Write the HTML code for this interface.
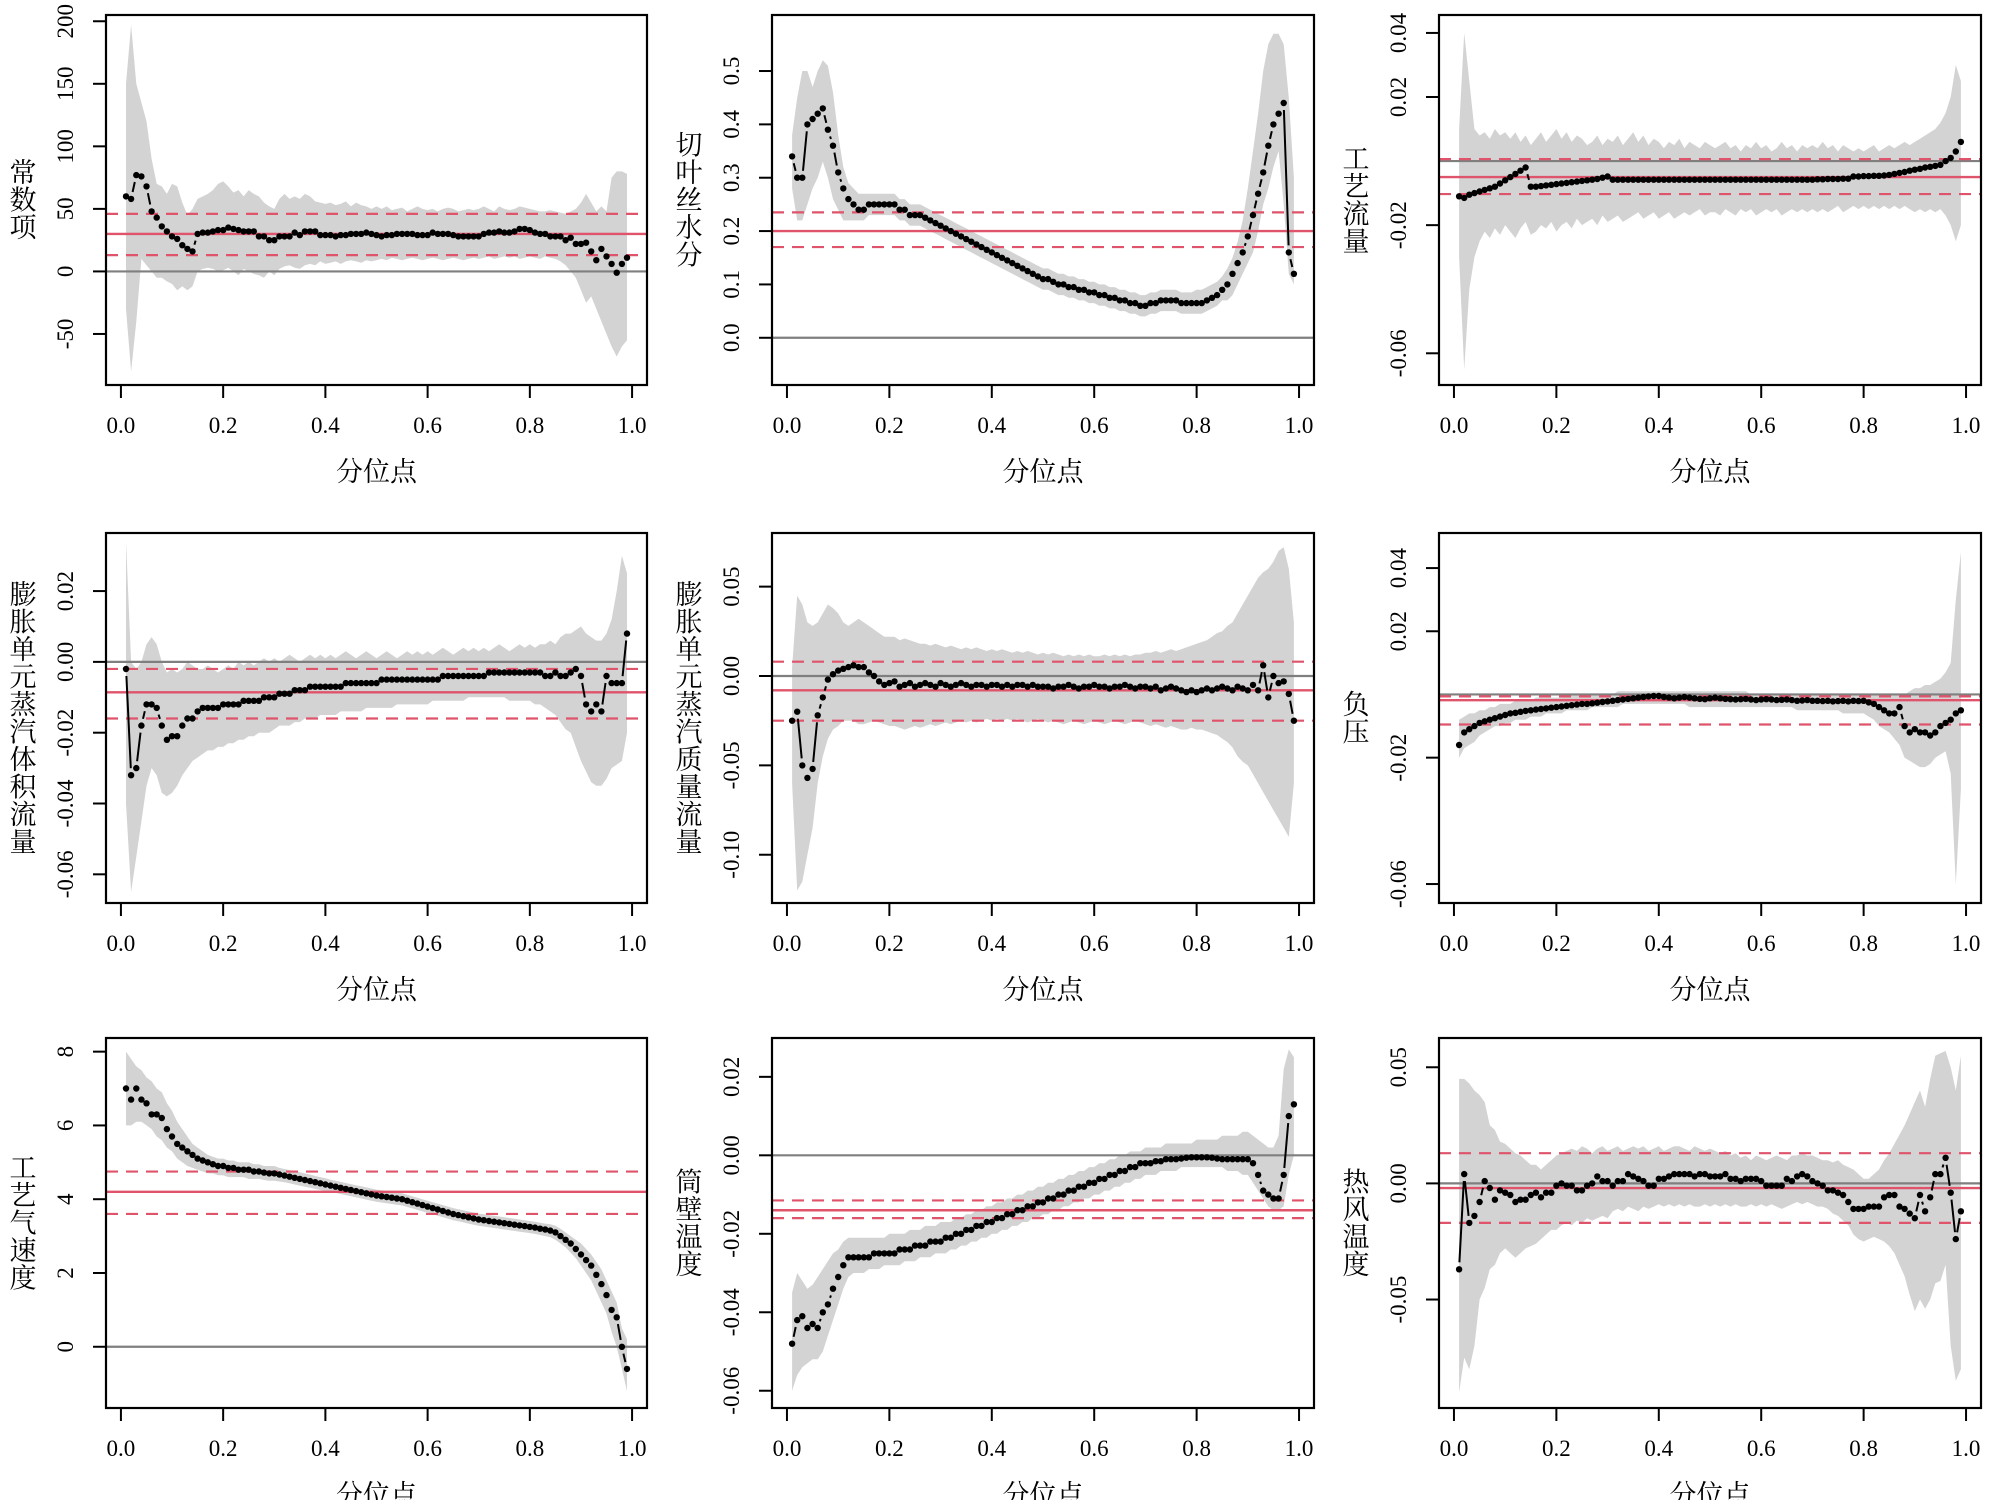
<!DOCTYPE html>
<html><head><meta charset="utf-8"><style>
html,body{margin:0;padding:0;background:#fff;}
svg{display:block;}
text{font-family:"Liberation Serif","Noto Serif CJK SC",serif;fill:#000;}
</style></head><body>
<svg id="chart" width="2000" height="1500" viewBox="0 0 2000 1500" xmlns="http://www.w3.org/2000/svg"></svg>
<script>
const titles=["常数项","切叶丝水分","工艺流量","膨胀单元蒸汽体积流量","膨胀单元蒸汽质量流量","负压","工艺气速度","筒壁温度","热风温度"];
const xTicks=[0,0.2,0.4,0.6,0.8,1.0];
const xTickLabels=["0.0","0.2","0.4","0.6","0.8","1.0"];
const yTicks=[[-50,0,50,100,150,200],[0,0.1,0.2,0.3,0.4,0.5],[-0.06,-0.02,0.02,0.04],[-0.06,-0.04,-0.02,0,0.02],[-0.10,-0.05,0,0.05],[-0.06,-0.02,0.02,0.04],[0,2,4,6,8],[-0.06,-0.04,-0.02,0,0.02],[-0.05,0,0.05]];
const yTickLabels=[["-50","0","50","100","150","200"],["0.0","0.1","0.2","0.3","0.4","0.5"],["-0.06","-0.02","0.02","0.04"],["-0.06","-0.04","-0.02","0.00","0.02"],["-0.10","-0.05","0.00","0.05"],["-0.06","-0.02","0.02","0.04"],["0","2","4","6","8"],["-0.06","-0.04","-0.02","0.00","0.02"],["-0.05","0.00","0.05"]];
const yLims=[[-90.8,205],[-0.0885,0.605],[-0.0699,0.0456],[-0.0681,0.0364],[-0.127,0.08],[-0.066,0.0511],[-1.66,8.37],[-0.0644,0.0299],[-0.0967,0.0626]];
const olsEst=[30,0.20,-0.005,-0.0086,-0.008,-0.0018,4.2,-0.014,-0.002];
const olsLo=[13,0.17,-0.0103,-0.016,-0.025,-0.0095,3.6,-0.016,-0.017];
const olsHi=[46,0.235,0.0006,-0.002,0.008,-0.0006,4.75,-0.0115,0.013];

const est1=[60,58,77,76,68,48,43,36,32,28,26,21,18,16,30,31,31,32,33,33,35,34,33,32,32,32,28,28,25,25,28,28,28,31,29,32,32,32,29,29,29,28,29,29,30,30,30,31,30,29,28,29,29,30,30,30,30,29,29,29,31,30,30,30,29,28,28,28,28,28,30,31,31,32,31,31,32,34,34,33,31,30,30,28,28,28,25,27,22,22,23,16,9,18,12,6,-1,6,11];
const hi1=[150,197,150,135,120,90,70,68,62,70,68,55,45,50,58,60,62,65,70,72,68,63,65,60,65,62,60,55,52,50,58,62,58,60,58,62,60,56,55,54,55,53,54,56,52,55,53,52,50,52,50,52,49,50,51,48,50,52,50,49,50,48,50,51,50,48,49,50,49,50,52,50,48,52,50,49,50,52,51,50,49,48,48,49,48,47,46,48,50,55,62,55,48,52,48,75,80,80,78];
const lo1=[-30,-80,-40,10,5,0,-5,-5,-8,-10,-15,-12,-15,-12,0,2,3,2,0,1,3,0,-3,2,0,-2,-3,-5,0,-3,2,4,5,3,2,5,6,5,8,6,7,8,6,8,9,8,7,9,8,9,10,9,11,10,9,10,11,10,9,10,11,10,9,10,11,10,9,10,11,10,11,12,10,11,12,11,12,10,11,12,11,10,12,11,10,8,5,0,-5,-15,-25,-20,-30,-40,-50,-60,-68,-60,-55];

const est2=[.34,.30,.30,.40,.41,.42,.43,.39,.36,.31,.28,.26,.25,.24,.24,.25,.25,.25,.25,.25,.25,.24,.24,.23,.23,.23,.225,.22,.215,.21,.205,.20,.195,.19,.185,.18,.175,.17,.165,.16,.155,.15,.145,.14,.135,.13,.125,.12,.115,.11,.11,.105,.10,.10,.095,.095,.09,.09,.085,.085,.08,.08,.075,.075,.07,.07,.065,.065,.06,.06,.065,.065,.07,.07,.07,.07,.065,.065,.065,.065,.065,.07,.075,.08,.09,.10,.12,.14,.16,.19,.23,.27,.31,.36,.40,.42,.44,.16,.12];
const hi2=[.38,.45,.50,.50,.47,.50,.52,.51,.46,.38,.32,.29,.28,.27,.27,.27,.27,.27,.27,.27,.27,.26,.26,.25,.25,.25,.245,.24,.235,.23,.225,.22,.215,.21,.205,.20,.195,.19,.185,.18,.175,.17,.165,.16,.155,.15,.145,.14,.135,.13,.13,.125,.12,.12,.115,.115,.11,.11,.105,.105,.10,.10,.095,.095,.09,.09,.085,.085,.08,.08,.085,.085,.09,.09,.09,.09,.085,.085,.085,.09,.09,.095,.10,.105,.115,.13,.15,.18,.22,.28,.35,.42,.50,.55,.57,.57,.55,.45,.30];
const lo2=[.28,.22,.22,.25,.28,.30,.33,.30,.26,.24,.22,.22,.22,.22,.22,.23,.23,.23,.23,.23,.23,.22,.22,.21,.21,.21,.205,.20,.195,.19,.185,.18,.175,.17,.165,.16,.155,.15,.145,.14,.135,.13,.125,.12,.115,.11,.105,.10,.095,.09,.09,.085,.08,.08,.075,.075,.07,.07,.065,.065,.06,.06,.055,.055,.05,.05,.045,.045,.04,.04,.045,.045,.05,.05,.05,.05,.045,.045,.045,.045,.045,.05,.055,.06,.07,.07,.08,.10,.12,.14,.16,.20,.25,.28,.32,.35,.25,.12,.10];

const est3=[-.011,-.0115,-.0105,-.010,-.0095,-.009,-.0085,-.008,-.007,-.006,-.005,-.004,-.003,-.002,-.008,-.008,-.0078,-.0076,-.0074,-.0072,-.007,-.0068,-.0066,-.0064,-.0062,-.006,-.0058,-.0056,-.0052,-.0048,-.0058,-.0058,-.0058,-.0058,-.0058,-.0058,-.0058,-.0058,-.0058,-.0058,-.0058,-.0058,-.0058,-.0058,-.0058,-.0058,-.0058,-.0058,-.0058,-.0058,-.0058,-.0058,-.0058,-.0058,-.0058,-.0058,-.0058,-.0058,-.0058,-.0058,-.0058,-.0058,-.0058,-.0058,-.0058,-.0058,-.0058,-.0058,-.0058,-.0058,-.0057,-.0057,-.0056,-.0056,-.0056,-.0055,-.0055,-.0048,-.0048,-.0047,-.0047,-.0046,-.0046,-.0045,-.0043,-.004,-.0037,-.0034,-.003,-.0027,-.0024,-.002,-.0018,-.0015,-.0012,.000,.001,.003,.006];
const hi3=[.01,.04,.025,.01,.008,.009,.007,.010,.008,.009,.007,.009,.006,.008,.005,.007,.009,.006,.008,.010,.007,.009,.006,.008,.007,.005,.006,.008,.005,.007,.006,.008,.005,.007,.009,.006,.008,.005,.007,.006,.004,.006,.005,.007,.004,.006,.005,.004,.006,.005,.004,.005,.006,.004,.005,.003,.005,.004,.006,.004,.005,.003,.004,.006,.004,.005,.003,.005,.004,.005,.004,.006,.004,.005,.003,.005,.004,.003,.004,.003,.004,.005,.003,.004,.005,.004,.005,.006,.005,.006,.007,.008,.009,.010,.012,.015,.020,.030,.025];
const lo3=[-.03,-.065,-.04,-.03,-.025,-.022,-.024,-.021,-.023,-.020,-.022,-.024,-.021,-.019,-.023,-.022,-.020,-.021,-.019,-.022,-.020,-.019,-.021,-.018,-.020,-.019,-.018,-.020,-.017,-.019,-.018,-.017,-.019,-.018,-.017,-.016,-.018,-.017,-.016,-.018,-.017,-.016,-.018,-.017,-.016,-.017,-.016,-.015,-.017,-.016,-.016,-.017,-.015,-.016,-.017,-.015,-.016,-.015,-.017,-.016,-.015,-.016,-.015,-.017,-.016,-.015,-.016,-.015,-.016,-.015,-.016,-.015,-.016,-.015,-.014,-.016,-.015,-.014,-.015,-.014,-.015,-.014,-.015,-.014,-.015,-.014,-.015,-.014,-.015,-.016,-.015,-.016,-.015,-.016,-.015,-.017,-.020,-.025,-.020];

const est4=[-.002,-.032,-.030,-.018,-.012,-.012,-.013,-.018,-.022,-.021,-.021,-.018,-.016,-.016,-.014,-.013,-.013,-.013,-.013,-.012,-.012,-.012,-.012,-.011,-.011,-.011,-.011,-.010,-.010,-.010,-.009,-.009,-.009,-.008,-.008,-.008,-.007,-.007,-.007,-.007,-.007,-.007,-.007,-.006,-.006,-.006,-.006,-.006,-.006,-.006,-.005,-.005,-.005,-.005,-.005,-.005,-.005,-.005,-.005,-.005,-.005,-.005,-.004,-.004,-.004,-.004,-.004,-.004,-.004,-.004,-.004,-.003,-.003,-.003,-.003,-.003,-.003,-.003,-.003,-.003,-.003,-.003,-.004,-.004,-.003,-.004,-.004,-.003,-.002,-.004,-.012,-.014,-.012,-.014,-.004,-.006,-.006,-.006,.008];
const hi4=[.034,.000,-.002,.000,.005,.007,.005,.000,-.003,-.002,-.003,-.002,.000,-.001,-.002,-.002,-.001,-.002,-.003,-.002,-.001,-.002,.000,-.001,.000,-.001,.000,.001,.000,.001,.000,.001,.002,.001,.000,.001,.002,.001,.002,.001,.002,.001,.002,.003,.002,.001,.002,.003,.002,.001,.002,.003,.002,.001,.002,.003,.002,.003,.002,.003,.002,.003,.004,.003,.002,.003,.004,.003,.004,.003,.004,.003,.004,.005,.004,.003,.004,.005,.004,.005,.004,.005,.005,.006,.005,.007,.008,.008,.009,.010,.008,.007,.006,.006,.008,.012,.020,.030,.025];
const lo4=[-.040,-.065,-.055,-.045,-.035,-.030,-.032,-.037,-.038,-.037,-.035,-.032,-.030,-.028,-.027,-.026,-.025,-.025,-.024,-.024,-.023,-.023,-.022,-.022,-.021,-.021,-.020,-.020,-.020,-.019,-.018,-.018,-.018,-.017,-.017,-.016,-.016,-.016,-.015,-.015,-.015,-.015,-.014,-.014,-.014,-.014,-.014,-.013,-.013,-.013,-.013,-.013,-.013,-.012,-.012,-.012,-.012,-.012,-.012,-.012,-.011,-.011,-.011,-.011,-.011,-.011,-.011,-.010,-.010,-.010,-.010,-.010,-.010,-.010,-.010,-.011,-.011,-.011,-.011,-.011,-.012,-.012,-.013,-.014,-.015,-.017,-.019,-.020,-.024,-.028,-.031,-.034,-.035,-.035,-.033,-.030,-.029,-.028,-.020];

const est5=[-.025,-.020,-.050,-.057,-.052,-.022,-.012,-.002,.001,.003,.004,.005,.006,.005,.005,.002,.000,-.003,-.005,-.004,-.003,-.006,-.005,-.004,-.006,-.005,-.004,-.005,-.006,-.004,-.005,-.006,-.005,-.004,-.005,-.006,-.005,-.005,-.006,-.005,-.005,-.006,-.005,-.006,-.005,-.005,-.006,-.005,-.006,-.006,-.006,-.007,-.006,-.006,-.005,-.006,-.007,-.006,-.006,-.005,-.006,-.006,-.007,-.006,-.006,-.005,-.006,-.007,-.006,-.006,-.007,-.006,-.008,-.007,-.006,-.007,-.008,-.009,-.008,-.009,-.008,-.007,-.008,-.007,-.006,-.007,-.008,-.006,-.007,-.008,-.005,-.008,.006,-.012,.000,-.004,-.003,-.010,-.025];
const hi5=[.005,.045,.040,.030,.028,.030,.035,.040,.038,.035,.030,.028,.030,.032,.030,.028,.026,.024,.022,.022,.022,.020,.021,.020,.019,.018,.018,.017,.018,.017,.016,.017,.016,.015,.016,.015,.016,.015,.014,.015,.014,.015,.014,.013,.014,.013,.014,.013,.012,.013,.012,.013,.012,.011,.012,.011,.012,.011,.012,.011,.011,.012,.011,.012,.011,.012,.011,.012,.012,.013,.013,.014,.013,.014,.015,.014,.015,.016,.017,.018,.019,.020,.022,.024,.025,.028,.030,.035,.040,.045,.050,.055,.058,.060,.064,.070,.072,.060,.030];
const lo5=[-.060,-.120,-.115,-.100,-.085,-.060,-.045,-.035,-.030,-.028,-.025,-.025,-.025,-.027,-.027,-.026,-.025,-.026,-.027,-.028,-.028,-.029,-.030,-.029,-.028,-.029,-.028,-.027,-.028,-.027,-.026,-.027,-.026,-.025,-.026,-.025,-.026,-.025,-.024,-.025,-.024,-.025,-.024,-.025,-.024,-.025,-.026,-.025,-.024,-.025,-.026,-.025,-.026,-.027,-.026,-.025,-.026,-.027,-.026,-.025,-.026,-.027,-.026,-.025,-.026,-.027,-.026,-.025,-.026,-.027,-.028,-.027,-.028,-.029,-.028,-.029,-.030,-.030,-.029,-.030,-.030,-.031,-.032,-.033,-.035,-.037,-.040,-.045,-.048,-.050,-.055,-.060,-.065,-.070,-.075,-.080,-.085,-.090,-.060];

const est6=[-.016,-.012,-.011,-.010,-.009,-.0085,-.008,-.0075,-.007,-.0065,-.006,-.0058,-.0055,-.0052,-.005,-.0048,-.0046,-.0044,-.0042,-.004,-.0038,-.0036,-.0034,-.0032,-.003,-.003,-.0028,-.0026,-.0024,-.0022,-.002,-.0018,-.0016,-.0014,-.0012,-.001,-.0008,-.0006,-.0005,-.0005,-.0008,-.001,-.0012,-.001,-.0008,-.001,-.0012,-.0014,-.0015,-.0012,-.001,-.0012,-.0014,-.0015,-.0016,-.0015,-.0014,-.0016,-.0018,-.0016,-.0015,-.0016,-.0018,-.0017,-.0016,-.0018,-.002,-.0019,-.0018,-.002,-.002,-.0021,-.002,-.0022,-.0021,-.002,-.0022,-.002,-.0021,-.002,-.0025,-.003,-.004,-.005,-.006,-.006,-.004,-.010,-.012,-.011,-.012,-.012,-.013,-.012,-.010,-.009,-.008,-.006,-.005];
const hi6=[-.008,-.007,-.006,-.006,-.005,-.005,-.004,-.004,-.003,-.003,-.003,-.002,-.002,-.002,-.002,-.001,-.001,-.001,-.001,-.001,-.001,.000,.000,.000,.000,.000,.000,.000,.000,.000,.000,.001,.001,.001,.001,.001,.001,.001,.001,.001,.001,.001,.001,.001,.001,.001,.001,.001,.001,.001,.001,.001,.001,.001,.001,.001,.001,.000,.000,.000,.000,.000,.000,.000,.000,.000,.000,.000,.000,.000,.000,.000,.000,.000,.000,.000,.000,.000,.000,.000,.000,.000,.000,.000,.000,.000,.000,.000,.001,.002,.002,.003,.003,.004,.005,.007,.010,.030,.045];
const lo6=[-.020,-.017,-.016,-.015,-.013,-.012,-.011,-.010,-.010,-.009,-.009,-.008,-.008,-.008,-.007,-.007,-.007,-.006,-.006,-.006,-.006,-.005,-.005,-.005,-.005,-.005,-.004,-.004,-.004,-.004,-.004,-.004,-.003,-.003,-.003,-.003,-.003,-.003,-.003,-.003,-.003,-.003,-.003,-.003,-.003,-.004,-.004,-.004,-.004,-.004,-.004,-.004,-.004,-.004,-.004,-.004,-.004,-.004,-.004,-.004,-.004,-.004,-.004,-.004,-.004,-.004,-.005,-.005,-.005,-.005,-.005,-.005,-.005,-.005,-.005,-.006,-.006,-.006,-.006,-.006,-.007,-.008,-.010,-.011,-.012,-.014,-.016,-.020,-.021,-.022,-.023,-.023,-.022,-.020,-.019,-.018,-.025,-.060,-.030];

const est7=[7.0,6.7,7.0,6.7,6.6,6.3,6.3,6.2,5.9,5.7,5.5,5.4,5.3,5.2,5.1,5.05,5.0,4.95,4.9,4.9,4.85,4.85,4.8,4.8,4.8,4.75,4.75,4.72,4.7,4.7,4.67,4.64,4.61,4.58,4.55,4.52,4.49,4.46,4.43,4.4,4.37,4.34,4.31,4.28,4.25,4.22,4.19,4.16,4.13,4.1,4.08,4.06,4.04,4.02,4.0,3.96,3.92,3.88,3.84,3.8,3.76,3.72,3.68,3.64,3.6,3.57,3.54,3.51,3.48,3.45,3.43,3.41,3.39,3.37,3.35,3.33,3.31,3.29,3.27,3.25,3.23,3.2,3.18,3.15,3.1,3.0,2.9,2.8,2.65,2.5,2.35,2.2,1.95,1.7,1.4,1.0,0.8,0.0,-0.6];
const hi7=[8.0,7.8,7.6,7.5,7.3,7.2,7.0,6.9,6.6,6.4,6.1,5.9,5.7,5.5,5.4,5.3,5.2,5.15,5.1,5.1,5.05,5.05,5.0,5.0,5.0,4.95,4.95,4.9,4.9,4.9,4.85,4.82,4.79,4.76,4.73,4.7,4.67,4.63,4.6,4.57,4.53,4.5,4.47,4.44,4.41,4.38,4.35,4.32,4.29,4.26,4.24,4.22,4.2,4.18,4.16,4.12,4.08,4.04,4.0,3.96,3.92,3.88,3.84,3.8,3.76,3.73,3.7,3.67,3.64,3.61,3.59,3.57,3.55,3.53,3.51,3.49,3.47,3.45,3.43,3.41,3.39,3.36,3.34,3.32,3.28,3.2,3.1,3.0,2.9,2.8,2.65,2.5,2.3,2.1,1.8,1.5,1.2,0.5,0.2];
const lo7=[6.0,6.0,6.1,6.1,6.0,5.9,5.7,5.6,5.4,5.3,5.1,5.0,4.9,4.85,4.8,4.75,4.7,4.7,4.65,4.65,4.6,4.6,4.6,4.6,4.55,4.55,4.55,4.52,4.5,4.5,4.48,4.46,4.43,4.4,4.37,4.34,4.31,4.28,4.25,4.22,4.2,4.17,4.14,4.11,4.08,4.05,4.02,3.99,3.96,3.93,3.91,3.89,3.87,3.85,3.83,3.79,3.75,3.71,3.67,3.63,3.59,3.55,3.51,3.47,3.43,3.4,3.37,3.34,3.31,3.28,3.26,3.24,3.22,3.2,3.18,3.16,3.14,3.12,3.1,3.08,3.06,3.03,3.0,2.97,2.9,2.8,2.7,2.55,2.4,2.2,2.0,1.8,1.5,1.2,0.9,0.4,0.0,-0.6,-1.2];

const est8=[-.048,-.042,-.041,-.044,-.043,-.044,-.040,-.038,-.034,-.031,-.028,-.026,-.026,-.026,-.026,-.026,-.025,-.025,-.025,-.025,-.025,-.024,-.024,-.024,-.023,-.023,-.023,-.022,-.022,-.022,-.021,-.021,-.020,-.020,-.019,-.019,-.018,-.018,-.017,-.017,-.016,-.016,-.015,-.015,-.014,-.014,-.013,-.013,-.012,-.012,-.011,-.011,-.010,-.010,-.009,-.009,-.008,-.008,-.007,-.007,-.006,-.006,-.005,-.005,-.004,-.004,-.003,-.003,-.002,-.002,-.002,-.0015,-.0015,-.001,-.001,-.001,-.0008,-.0006,-.0005,-.0005,-.0005,-.0005,-.0006,-.0008,-.001,-.001,-.001,-.001,-.001,-.001,-.002,-.005,-.009,-.010,-.011,-.011,-.005,.010,.013];
const hi8=[-.035,-.030,-.032,-.034,-.033,-.031,-.029,-.027,-.025,-.024,-.022,-.021,-.021,-.021,-.021,-.021,-.021,-.021,-.021,-.020,-.020,-.020,-.020,-.019,-.019,-.019,-.018,-.018,-.018,-.017,-.017,-.017,-.016,-.016,-.015,-.015,-.014,-.014,-.013,-.013,-.012,-.012,-.011,-.011,-.010,-.010,-.009,-.009,-.008,-.008,-.007,-.007,-.006,-.006,-.005,-.005,-.004,-.004,-.003,-.003,-.002,-.002,-.001,-.001,.000,.000,.001,.001,.001,.002,.002,.002,.002,.003,.003,.003,.003,.003,.003,.004,.004,.004,.004,.004,.005,.005,.005,.005,.006,.006,.005,.004,.003,.002,.002,.005,.022,.027,.025];
const lo8=[-.060,-.056,-.054,-.053,-.052,-.052,-.050,-.046,-.042,-.038,-.034,-.031,-.030,-.030,-.030,-.029,-.029,-.029,-.028,-.028,-.028,-.028,-.027,-.027,-.027,-.026,-.026,-.026,-.025,-.025,-.025,-.024,-.024,-.023,-.023,-.022,-.022,-.021,-.021,-.020,-.020,-.019,-.019,-.018,-.018,-.017,-.017,-.016,-.016,-.015,-.015,-.014,-.014,-.013,-.013,-.012,-.012,-.011,-.011,-.010,-.010,-.009,-.009,-.008,-.008,-.007,-.007,-.006,-.006,-.005,-.005,-.005,-.004,-.004,-.004,-.004,-.003,-.003,-.003,-.003,-.003,-.003,-.003,-.003,-.003,-.004,-.004,-.004,-.005,-.005,-.007,-.009,-.011,-.013,-.014,-.014,-.013,-.005,.000];

const est9=[-.037,.004,-.017,-.014,-.008,.001,-.002,-.007,-.003,-.004,-.005,-.008,-.007,-.007,-.005,-.004,-.006,-.004,-.004,-.001,.000,-.001,-.001,-.003,-.003,-.001,.000,.003,.001,.001,-.001,.001,.001,.004,.003,.002,.001,-.001,-.001,.002,.002,.003,.004,.004,.004,.004,.003,.004,.004,.003,.003,.003,.004,.002,.002,.001,.002,.002,.002,.001,-.001,-.001,-.001,-.001,.002,.001,.003,.004,.003,.001,.000,-.001,-.003,-.003,-.004,-.005,-.008,-.011,-.011,-.011,-.010,-.010,-.010,-.006,-.005,-.005,-.010,-.011,-.013,-.015,-.005,-.012,-.006,.004,.004,.011,-.004,-.024,-.012];
const hi9=[.045,.045,.043,.040,.038,.035,.025,.023,.018,.017,.015,.013,.012,.010,.008,.008,.006,.008,.010,.012,.013,.014,.015,.014,.016,.015,.013,.015,.016,.014,.015,.016,.014,.015,.016,.015,.016,.014,.015,.016,.014,.015,.016,.016,.015,.014,.016,.015,.014,.015,.014,.013,.014,.012,.013,.011,.012,.010,.012,.011,.010,.011,.012,.011,.010,.012,.012,.013,.012,.012,.011,.010,.010,.009,.010,.008,.007,.006,.004,.002,.002,.004,.006,.010,.013,.017,.021,.025,.030,.035,.040,.033,.045,.055,.056,.057,.050,.040,.055];
const lo9=[-.090,-.075,-.080,-.070,-.050,-.045,-.037,-.035,-.030,-.028,-.030,-.032,-.030,-.028,-.027,-.026,-.024,-.022,-.020,-.020,-.018,-.017,-.018,-.016,-.017,-.015,-.016,-.015,-.014,-.015,-.012,-.011,-.012,-.010,-.011,-.012,-.010,-.011,-.010,-.009,-.010,-.009,-.010,-.009,-.010,-.009,-.010,-.010,-.009,-.010,-.009,-.010,-.009,-.010,-.009,-.010,-.010,-.009,-.010,-.009,-.010,-.009,-.010,-.011,-.010,-.009,-.008,-.009,-.008,-.009,-.010,-.010,-.011,-.013,-.014,-.016,-.018,-.022,-.024,-.025,-.024,-.023,-.024,-.025,-.027,-.030,-.035,-.040,-.048,-.055,-.050,-.054,-.050,-.043,-.042,-.035,-.070,-.085,-.080];

const estimates=[est1,est2,est3,est4,est5,est6,est7,est8,est9];
const upperBands=[hi1,hi2,hi3,hi4,hi5,hi6,hi7,hi8,hi9];
const lowerBands=[lo1,lo2,lo3,lo4,lo5,lo6,lo7,lo8,lo9];
const taus=[];
for(let i=1;i<=99;i++) taus.push(i/100);

const NS="http://www.w3.org/2000/svg";
const svg=document.getElementById("chart");
const colBox=[[106,647],[772,1314],[1439,1981]];
const rowBox=[[15,385],[533,903],[1038,1408]];
const RED="#DF536B";
function mk(tag,attrs,parent){const e=document.createElementNS(NS,tag);for(const k in attrs)e.setAttribute(k,attrs[k]);parent.appendChild(e);return e;}

for(let p=0;p<9;p++){
  const [x0,x1]=colBox[p%3],[y0,y1]=rowBox[Math.floor(p/3)];
  const g=mk("g",{},svg);
  
  
  const xs=v=>x0+(x1-x0)*(v+0.0292)/1.0584;
  const [ylo,yhi]=yLims[p];
  const ys=v=>y1-(y1-y0)*(v-ylo)/(yhi-ylo);
  const clipId="clip"+p;
  const cp=mk("clipPath",{id:clipId},g);
  mk("rect",{x:x0,y:y0,width:x1-x0,height:y1-y0},cp);
  const inner=mk("g",{"clip-path":"url(#"+clipId+")"},g);
  let d="";
  taus.forEach((t,i)=>{d+=(i?"L":"M")+xs(t).toFixed(1)+","+ys(upperBands[p][i]).toFixed(1);});
  for(let i=98;i>=0;i--) d+="L"+xs(taus[i]).toFixed(1)+","+ys(lowerBands[p][i]).toFixed(1);
  const band=mk("path",{d:d+"Z",fill:"#d3d3d3",stroke:"none"},inner);
  
  
  const z=mk("line",{x1:x0,x2:x1,y1:ys(0),y2:ys(0),stroke:"#7f7f7f","stroke-width":2.2},inner);
  
  
  const lo=mk("line",{x1:x0,x2:x1,y1:ys(olsLo[p]),y2:ys(olsLo[p]),stroke:RED,"stroke-width":2.2,"stroke-dasharray":"12 8"},inner);
  
  
  const hi=mk("line",{x1:x0,x2:x1,y1:ys(olsHi[p]),y2:ys(olsHi[p]),stroke:RED,"stroke-width":2.2,"stroke-dasharray":"12 8"},inner);
  
  
  const ol=mk("line",{x1:x0,x2:x1,y1:ys(olsEst[p]),y2:ys(olsEst[p]),stroke:RED,"stroke-width":2.4},inner);
  
  
  const r=3.2,gap=7;
  let sd="";
  for(let i=0;i<98;i++){
    const ax=xs(taus[i]),ay=ys(estimates[p][i]),bx=xs(taus[i+1]),by=ys(estimates[p][i+1]);
    const dx=bx-ax,dy=by-ay,L=Math.hypot(dx,dy);
    if(L>2*gap+2){const ux=dx/L,uy=dy/L;sd+="M"+(ax+ux*gap).toFixed(1)+","+(ay+uy*gap).toFixed(1)+"L"+(bx-ux*gap).toFixed(1)+","+(by-uy*gap).toFixed(1);}
  }
  if(sd){const sl=mk("path",{d:sd,stroke:"#000","stroke-width":2,fill:"none"},inner);
    
    }
  taus.forEach((t,i)=>{
    const c=mk("circle",{cx:xs(t).toFixed(1),cy:ys(estimates[p][i]).toFixed(1),r:r,fill:"#000"},inner);
    
    
  });
  const bx=mk("rect",{x:x0,y:y0,width:x1-x0,height:y1-y0,fill:"none",stroke:"#000","stroke-width":2.2},g);
  
  
  const ax=mk("g",{},g);
  
  
  xTicks.forEach((t,i)=>{
    mk("line",{x1:xs(t),x2:xs(t),y1:y1,y2:y1+13,stroke:"#000","stroke-width":2},ax);
    const tx=mk("text",{x:xs(t),y:y1+48,"text-anchor":"middle","font-size":23},ax);
    tx.textContent=xTickLabels[i];
    
    
  });
  const xt=mk("text",{x:(x0+x1)/2,y:y1+96,"text-anchor":"middle","font-size":27},g);
  xt.textContent="分位点";
  
  
  const ay=mk("g",{},g);
  
  
  yTicks[p].forEach((t,i)=>{
    mk("line",{x1:x0-13,x2:x0,y1:ys(t),y2:ys(t),stroke:"#000","stroke-width":2},ay);
    const tx=mk("text",{x:0,y:0,"text-anchor":"middle","font-size":23,transform:"translate("+(x0-33)+","+ys(t)+") rotate(-90)"},ay);
    tx.textContent=yTickLabels[p][i];
    
    
  });
  const title=titles[p];
  const step=27.5;
  const cy=(y0+y1)/2-(title.length*step)/2+step*0.85;
  const yt=mk("text",{x:x0-83,y:cy,"text-anchor":"middle","font-size":27},g);
  
  
  [...title].forEach((ch,i)=>{const ts=mk("tspan",{x:x0-83,y:cy+i*step},yt);ts.textContent=ch;});
}
</script>
</body></html>
